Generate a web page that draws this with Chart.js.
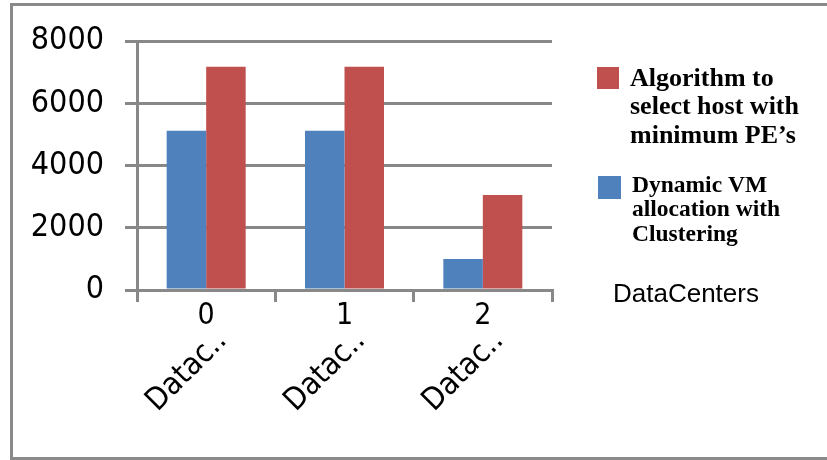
<!DOCTYPE html>
<html>
<head>
<meta charset="utf-8">
<script src="https://cdn.jsdelivr.net/npm/chart.js@4/dist/chart.umd.min.js"></script>
<style>
  html, body { margin: 0; padding: 0; background: #ffffff; }
  canvas { display: block; }
</style>
</head>
<body>
<canvas id="chart" width="827" height="460"></canvas>
<script>
// Data
const categoryIds = ['0', '1', '2'];
const categoryNames = ['Datac..', 'Datac..', 'Datac..'];
const clusteringValues = [5120, 5120, 1000];
const minPeValues = [7170, 7170, 3050];
const clusteringLines = ['Dynamic VM', 'allocation with', 'Clustering'];
const minPeLines = ['Algorithm to', 'select host with', 'minimum PE\u2019s'];
const yTicks = [0, 2000, 4000, 6000, 8000];
const axisTitle = 'DataCenters';

const BLUE = '#4F81BD';
const RED = '#C0504D';
const GRID = '#888888';
const TICK_FONT = "'DejaVu Sans Condensed', 'Liberation Sans Narrow', 'DejaVu Sans', sans-serif";

// Outer frame (left, top and bottom edges)
const framePlugin = {
  id: 'frame',
  beforeDraw(chart) {
    const ctx = chart.ctx;
    ctx.save();
    ctx.fillStyle = '#ffffff';
    ctx.fillRect(0, 0, chart.width, chart.height);
    ctx.strokeStyle = '#8a8a8a';
    ctx.lineWidth = 3;
    ctx.beginPath();
    ctx.moveTo(chart.width, 4.5);
    ctx.lineTo(11.5, 4.5);
    ctx.lineTo(11.5, 458.5);
    ctx.lineTo(chart.width, 458.5);
    ctx.stroke();
    ctx.restore();
  }
};

// Legend at the right, plus the category axis title below it
const sideLegendPlugin = {
  id: 'sideLegend',
  afterDraw(chart) {
    const ctx = chart.ctx;
    const ds = chart.data.datasets;
    const entries = [
      { ds: ds[1], lines: minPeLines, box: [597, 67, 22], textX: 630, y0: 85.5, step: 28.7, size: 26 },
      { ds: ds[0], lines: clusteringLines, box: [598, 176, 23], textX: 632, y0: 191.5, step: 24.6, size: 23.5 }
    ];
    ctx.save();
    entries.forEach(e => {
      ctx.fillStyle = e.ds.backgroundColor;
      ctx.fillRect(e.box[0], e.box[1], e.box[2], e.box[2]);
      ctx.fillStyle = '#000000';
      ctx.font = 'bold ' + e.size + "px 'Liberation Serif', 'Times New Roman', serif";
      ctx.textAlign = 'left';
      ctx.textBaseline = 'alphabetic';
      e.lines.forEach((line, i) => ctx.fillText(line, e.textX, e.y0 + i * e.step));
    });
    ctx.font = "26px 'Liberation Sans', Arial, sans-serif";
    ctx.fillStyle = '#000000';
    ctx.fillText(axisTitle, 613, 301.5);
    ctx.restore();
  }
};

new Chart(document.getElementById('chart'), {
  type: 'bar',
  data: {
    labels: categoryIds,
    datasets: [
      {
        label: clusteringLines.join(' '),
        data: clusteringValues,
        backgroundColor: BLUE,
        xAxisID: 'x'
      },
      {
        label: minPeLines.join(' '),
        data: minPeValues,
        backgroundColor: RED,
        xAxisID: 'x'
      }
    ]
  },
  options: {
    responsive: false,
    animation: false,
    devicePixelRatio: 1,
    layout: { padding: { left: 0, right: 275, top: 41, bottom: 0 } },
    datasets: {
      bar: { categoryPercentage: 0.571, barPercentage: 1.0 }
    },
    plugins: {
      legend: { display: false },
      tooltip: { enabled: false }
    },
    scales: {
      x: {
        type: 'category',
        position: 'bottom',
        grid: {
          display: true,
          drawOnChartArea: false,
          offset: true,
          tickLength: 12,
          color: GRID,
          lineWidth: 3
        },
        border: { display: true, color: GRID, width: 3 },
        ticks: {
          color: '#000000',
          font: { family: TICK_FONT, size: 30 },
          padding: -4,
          maxRotation: 0,
          minRotation: 0
        },
        afterFit(scale) { scale.height = 40; }
      },
      x2: {
        type: 'category',
        position: 'bottom',
        labels: categoryNames,
        offset: true,
        grid: { display: false },
        border: { display: false },
        ticks: {
          color: '#000000',
          font: { family: TICK_FONT, size: 31 },
          padding: -15,
          minRotation: 45,
          maxRotation: 45,
          autoSkip: false,
          labelOffset: 16
        },
        afterFit(scale) { scale.height = 130; }
      },
      y: {
        min: 0,
        max: 8000,
        afterBuildTicks(scale) { scale.ticks = yTicks.map(v => ({ value: v })); },
        grid: {
          color: GRID,
          lineWidth: 3,
          tickLength: 12
        },
        border: { display: true, color: GRID, width: 3 },
        ticks: {
          color: '#000000',
          font: { family: TICK_FONT, size: 32 },
          padding: 21,
          callback: v => String(v)
        },
        afterFit(scale) { scale.width = 137; }
      }
    }
  },
  plugins: [framePlugin, sideLegendPlugin]
});
</script>
</body>
</html>
